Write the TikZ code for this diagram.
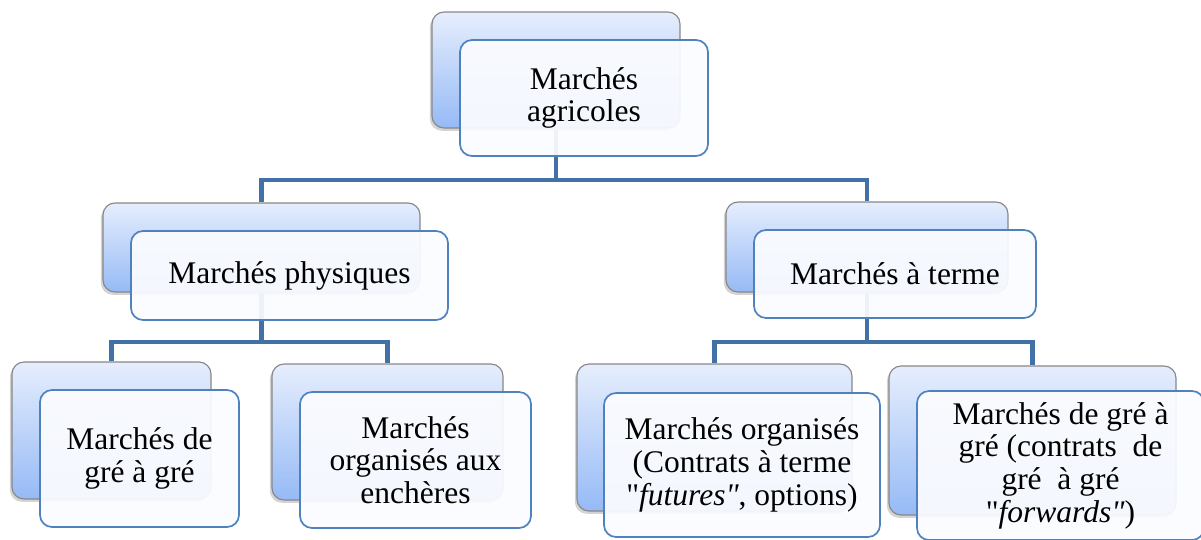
\documentclass[tikz,border=0pt]{standalone}
\usepackage{fontspec}
\setmainfont{Liberation Serif}[Ligatures=TeXOff]
\usetikzlibrary{shadows,backgrounds}

\definecolor{linkblue}{RGB}{65,113,167}
\definecolor{bktop}{RGB}{230,238,253}
\definecolor{bkbot}{RGB}{150,186,246}
\definecolor{bkline}{RGB}{135,135,135}
\definecolor{frontline}{RGB}{79,129,189}
\definecolor{frontfill}{RGB}{251,252,255}

\tikzset{
  backbox/.style={rectangle, rounded corners=0.3cm, inner sep=0pt,
    draw=bkline, line width=0.8pt, top color=bktop, bottom color=bkbot,
    drop shadow={shadow xshift=-1.5pt, shadow yshift=-2pt, opacity=0.35}},
  frontbox/.style={rectangle, rounded corners=0.3cm, inner sep=0pt,
    draw=frontline, line width=1.2pt, fill=frontfill, fill opacity=0.93,
    text opacity=1, align=center, font=\fontsize{22.4}{23.2}\selectfont},
  link/.style={draw=linkblue, line width=3.5pt}
}

\begin{document}
\begin{tikzpicture}
            \useasboundingbox (0,0) rectangle (30.025,-13.475);
            \coordinate (bus1) at (0,-4.5);
            \coordinate (bus2) at (0,-8.55);
            % top level
            \node [backbox, minimum width=6.2cm, minimum height=2.9cm] (agriB) at (13.9,-1.75) {};
            \node [frontbox, minimum width=6.2cm, minimum height=2.9cm] (agri) at (14.6,-2.45) {Marchés\\agricoles};
            % second level
            \node [backbox, minimum width=7.925cm, minimum height=2.225cm] (physB) at (6.5375,-6.1875) {};
            \node [frontbox, minimum width=7.925cm, minimum height=2.225cm] (phys) at (7.2375,-6.8875) {Marchés physiques};
            \node [backbox, minimum width=7.05cm, minimum height=2.25cm] (termeB) at (21.675,-6.175) {};
            \node [frontbox, minimum width=7.05cm, minimum height=2.2cm] (terme) at (22.375,-6.85) {Marchés à terme};
            % third level
            \node [backbox, minimum width=4.975cm, minimum height=3.425cm] (greB) at (2.7875,-10.7625) {};
            \node [frontbox, minimum width=4.975cm, minimum height=3.425cm] (gre) at (3.4875,-11.4625) {Marchés de\\gré à gré};
            \node [backbox, minimum width=5.775cm, minimum height=3.4cm] (enchB) at (9.6875,-10.8) {};
            \node [frontbox, minimum width=5.775cm, minimum height=3.4cm] (ench) at (10.3875,-11.5) {Marchés\\organisés aux\\enchères};
            \node [backbox, minimum width=6.875cm, minimum height=3.675cm] (orgB) at (17.8625,-10.9375) {};
            \node [frontbox, minimum width=6.9cm, minimum height=3.6cm] (org) at (18.55,-11.625) {Marchés organisés\\(Contrats à terme\\"\textit{futures"}, options)};
            \node [backbox, minimum width=7.175cm, minimum height=3.725cm] (fwdB) at (25.8125,-11.0125) {};
            \node [frontbox, minimum width=7.175cm, minimum height=3.725cm] (fwd) at (26.5125,-11.6375) {Marchés de gré à\\gré (contrats~ de\\gré~ à gré\\"\textit{forwards"})};
            % connectors
            \begin{scope}[on background layer]
              \draw [link] (agriB.south) -- (agriB.south |- bus1) -| (physB.north);
              \draw [link] (agriB.south |- bus1) -| (termeB.north);
              \draw [link] (physB.south) -- (physB.south |- bus2) -| (greB.north);
              \draw [link] (physB.south |- bus2) -| (enchB.north);
              \draw [link] (termeB.south) -- (termeB.south |- bus2) -| (orgB.north);
              \draw [link] (termeB.south |- bus2) -| (fwdB.north);
            \end{scope}
        \end{tikzpicture}
\end{document}
